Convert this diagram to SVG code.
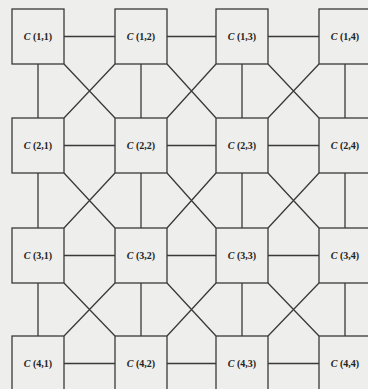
<svg xmlns="http://www.w3.org/2000/svg" width="368" height="389" viewBox="0 0 368 389">
<style>
.bg{fill:#eeeeec}
.box{fill:#eeeeec;stroke:#3a3a3a;stroke-width:1.3}
.ln{fill:none;stroke:#3a3a3a;stroke-width:1.3}
.lbl{font-family:"Liberation Serif",serif;font-size:10px;fill:#222;text-anchor:middle;font-weight:bold}
.i{font-style:italic}
</style>
<rect class="bg" x="0" y="0" width="368" height="389"/>
<g id="connectors">
<path class="ln" d="M64,36.5H115M167,36.5H216M268,36.5H319M64,145.5H115M167,145.5H216M268,145.5H319M64,255.5H115M167,255.5H216M268,255.5H319M64,363.5H115M167,363.5H216M268,363.5H319"/>
<path class="ln" d="M38,64V118M38,173V228M38,283V336M141,64V118M141,173V228M141,283V336M242,64V118M242,173V228M242,283V336M345,64V118M345,173V228M345,283V336"/>
<path class="ln" d="M64,64L115,118M115,64L64,118M167,64L216,118M216,64L167,118M268,64L319,118M319,64L268,118M64,173L115,228M115,173L64,228M167,173L216,228M216,173L167,228M268,173L319,228M319,173L268,228M64,283L115,336M115,283L64,336M167,283L216,336M216,283L167,336M268,283L319,336M319,283L268,336"/>
</g>
<g id="C11"><rect class="box" x="12" y="9" width="52" height="55"/><text class="lbl" x="38" y="40"><tspan class="i">C</tspan> (1,1)</text></g>
<g id="C12"><rect class="box" x="115" y="9" width="52" height="55"/><text class="lbl" x="141" y="40"><tspan class="i">C</tspan> (1,2)</text></g>
<g id="C13"><rect class="box" x="216" y="9" width="52" height="55"/><text class="lbl" x="242" y="40"><tspan class="i">C</tspan> (1,3)</text></g>
<g id="C14"><rect class="box" x="319" y="9" width="52" height="55"/><text class="lbl" x="345" y="40"><tspan class="i">C</tspan> (1,4)</text></g>
<g id="C21"><rect class="box" x="12" y="118" width="52" height="55"/><text class="lbl" x="38" y="149"><tspan class="i">C</tspan> (2,1)</text></g>
<g id="C22"><rect class="box" x="115" y="118" width="52" height="55"/><text class="lbl" x="141" y="149"><tspan class="i">C</tspan> (2,2)</text></g>
<g id="C23"><rect class="box" x="216" y="118" width="52" height="55"/><text class="lbl" x="242" y="149"><tspan class="i">C</tspan> (2,3)</text></g>
<g id="C24"><rect class="box" x="319" y="118" width="52" height="55"/><text class="lbl" x="345" y="149"><tspan class="i">C</tspan> (2,4)</text></g>
<g id="C31"><rect class="box" x="12" y="228" width="52" height="55"/><text class="lbl" x="38" y="259"><tspan class="i">C</tspan> (3,1)</text></g>
<g id="C32"><rect class="box" x="115" y="228" width="52" height="55"/><text class="lbl" x="141" y="259"><tspan class="i">C</tspan> (3,2)</text></g>
<g id="C33"><rect class="box" x="216" y="228" width="52" height="55"/><text class="lbl" x="242" y="259"><tspan class="i">C</tspan> (3,3)</text></g>
<g id="C34"><rect class="box" x="319" y="228" width="52" height="55"/><text class="lbl" x="345" y="259"><tspan class="i">C</tspan> (3,4)</text></g>
<g id="C41"><rect class="box" x="12" y="336" width="52" height="55"/><text class="lbl" x="38" y="367"><tspan class="i">C</tspan> (4,1)</text></g>
<g id="C42"><rect class="box" x="115" y="336" width="52" height="55"/><text class="lbl" x="141" y="367"><tspan class="i">C</tspan> (4,2)</text></g>
<g id="C43"><rect class="box" x="216" y="336" width="52" height="55"/><text class="lbl" x="242" y="367"><tspan class="i">C</tspan> (4,3)</text></g>
<g id="C44"><rect class="box" x="319" y="336" width="52" height="55"/><text class="lbl" x="345" y="367"><tspan class="i">C</tspan> (4,4)</text></g>
</svg>
